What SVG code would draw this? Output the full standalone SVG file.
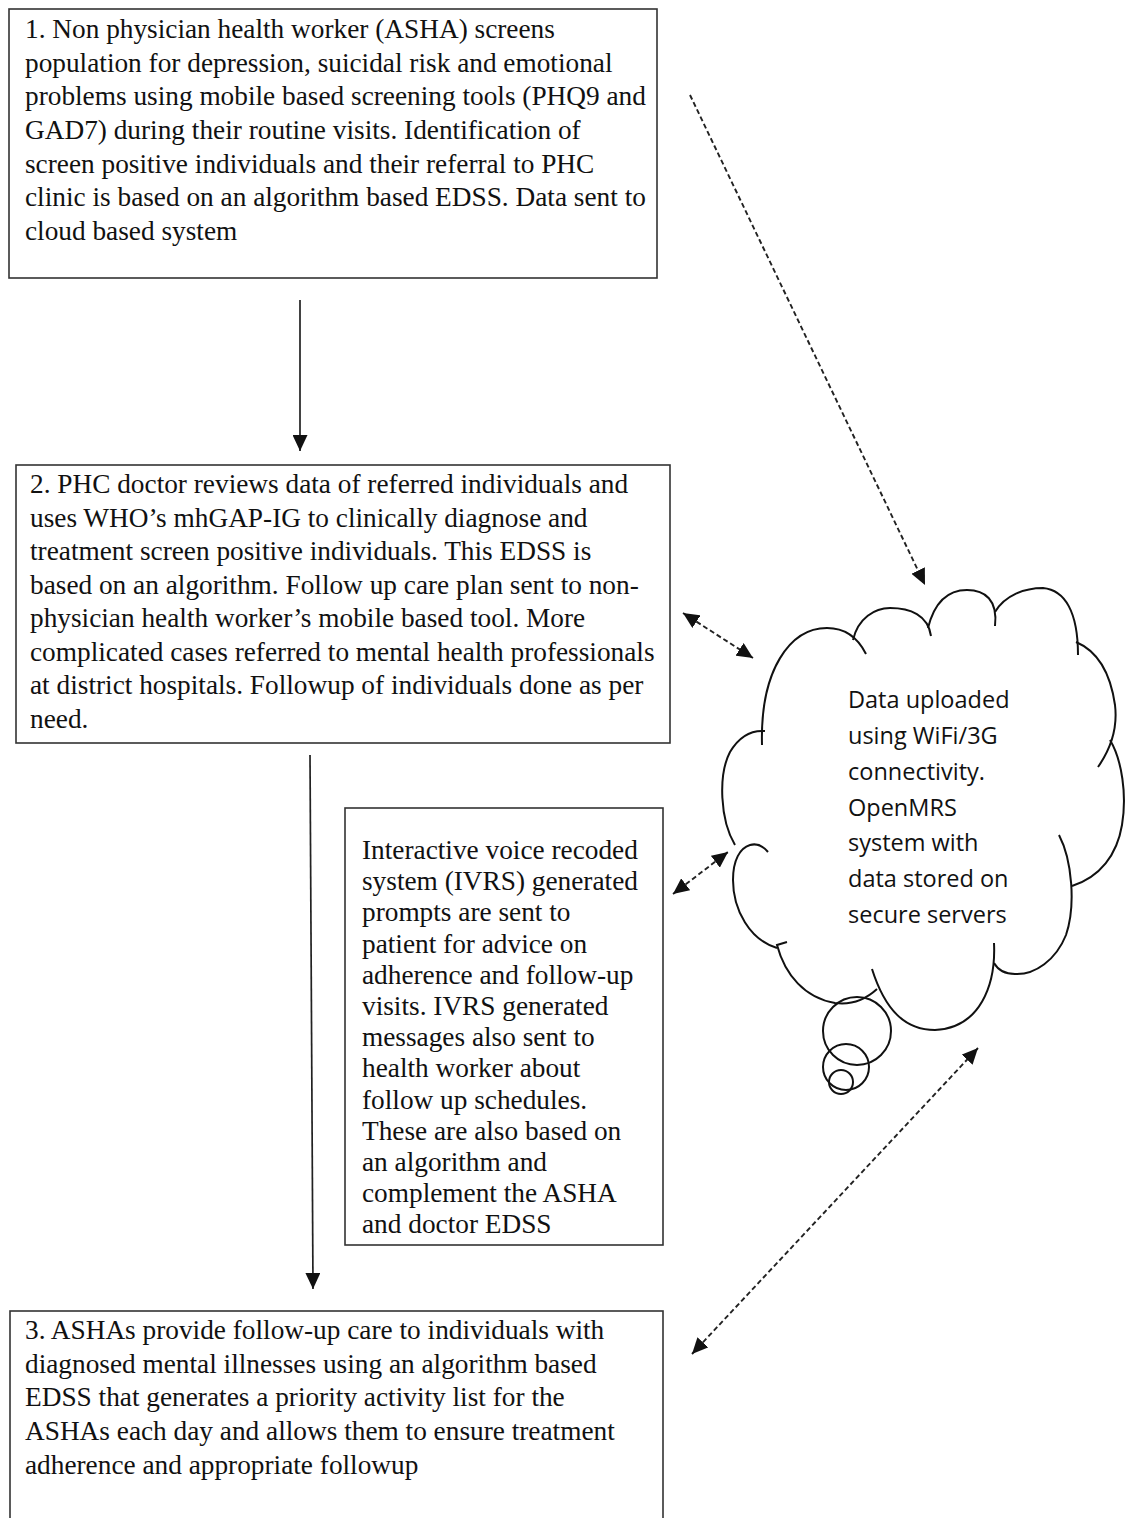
<svg xmlns="http://www.w3.org/2000/svg" width="1131" height="1518" viewBox="0 0 1131 1518">
<style>
.box{fill:#fff;stroke:#333;stroke-width:1.6}
.t{font-family:"Liberation Serif","Times New Roman",serif;font-size:27.3px;fill:#111}
.c{font-family:"Open Sans","Noto Sans",sans-serif;font-size:23.5px;fill:#111}
.solid{stroke:#222;stroke-width:1.7;fill:none}
.dash{stroke:#222;stroke-width:1.9;fill:none;stroke-dasharray:5 3}
.cl{stroke:#111;stroke-width:2;fill:none}
</style>
<defs>
<marker id="arrS" markerUnits="userSpaceOnUse" markerWidth="16" markerHeight="15" refX="16" refY="7.5" orient="auto"><path d="M0,0 L16,7.5 L0,15 z" fill="#111"/></marker>
<marker id="arrD" markerUnits="userSpaceOnUse" markerWidth="16" markerHeight="15" refX="16" refY="7.5" orient="auto-start-reverse"><path d="M0,0 L16,7.5 L0,15 z" fill="#111"/></marker>
</defs>
<rect width="1131" height="1518" fill="#fff"/>

<g id="connectors">
<line class="solid" x1="300" y1="300" x2="300" y2="451" marker-end="url(#arrS)"/>
<line class="solid" x1="310" y1="755" x2="313" y2="1289" marker-end="url(#arrS)"/>
<line class="dash" x1="690" y1="95" x2="925" y2="585" marker-end="url(#arrD)"/>
<line class="dash" x1="683" y1="613" x2="753" y2="658" marker-start="url(#arrD)" marker-end="url(#arrD)"/>
<line class="dash" x1="673" y1="894" x2="728" y2="852" marker-start="url(#arrD)" marker-end="url(#arrD)"/>
<line class="dash" x1="692" y1="1354" x2="978" y2="1048" marker-start="url(#arrD)" marker-end="url(#arrD)"/>
</g>

<g id="node1">
<rect class="box" x="9" y="9" width="648" height="269"/>
<text class="t">
<tspan x="25" y="38">1. Non physician health worker (ASHA) screens</tspan>
<tspan x="25" y="72">population for depression, suicidal risk and emotional</tspan>
<tspan x="25" y="105">problems using mobile based screening tools (PHQ9 and</tspan>
<tspan x="25" y="139">GAD7) during their routine visits. Identification of</tspan>
<tspan x="25" y="173">screen positive individuals and their referral to PHC</tspan>
<tspan x="25" y="206">clinic is based on an algorithm based EDSS. Data sent to</tspan>
<tspan x="25" y="240">cloud based system</tspan>
</text>
</g>

<g id="node2">
<rect class="box" x="16" y="465" width="654" height="278"/>
<text class="t">
<tspan x="30" y="493">2. PHC doctor reviews data of referred individuals and</tspan>
<tspan x="30" y="527">uses WHO’s mhGAP-IG to clinically diagnose and</tspan>
<tspan x="30" y="560">treatment screen positive individuals. This EDSS is</tspan>
<tspan x="30" y="594">based on an algorithm. Follow up care plan sent to non-</tspan>
<tspan x="30" y="627">physician health worker’s mobile based tool. More</tspan>
<tspan x="30" y="661">complicated cases referred to mental health professionals</tspan>
<tspan x="30" y="694">at district hospitals. Followup of individuals done as per</tspan>
<tspan x="30" y="728">need.</tspan>
</text>
</g>

<g id="node-ivrs">
<rect class="box" x="345" y="808" width="318" height="437"/>
<text class="t">
<tspan x="362" y="859">Interactive voice recoded</tspan>
<tspan x="362" y="890">system (IVRS) generated</tspan>
<tspan x="362" y="921">prompts are sent to</tspan>
<tspan x="362" y="953">patient for advice on</tspan>
<tspan x="362" y="984">adherence and follow-up</tspan>
<tspan x="362" y="1015">visits. IVRS generated</tspan>
<tspan x="362" y="1046">messages also sent to</tspan>
<tspan x="362" y="1077">health worker about</tspan>
<tspan x="362" y="1109">follow up schedules.</tspan>
<tspan x="362" y="1140">These are also based on</tspan>
<tspan x="362" y="1171">an algorithm and</tspan>
<tspan x="362" y="1202">complement the ASHA</tspan>
<tspan x="362" y="1233">and doctor EDSS</tspan>
</text>
</g>

<g id="node3">
<rect class="box" x="10" y="1311" width="653" height="240"/>
<text class="t">
<tspan x="25" y="1339">3. ASHAs provide follow-up care to individuals with</tspan>
<tspan x="25" y="1373">diagnosed mental illnesses using an algorithm based</tspan>
<tspan x="25" y="1406">EDSS that generates a priority activity list for the</tspan>
<tspan x="25" y="1440">ASHAs each day and allows them to ensure treatment</tspan>
<tspan x="25" y="1474">adherence and appropriate followup</tspan>
</text>
</g>

<g id="cloud">
<path class="cl" d="M762,745 C760,670 790,628 827,628 C845,628 858,638 866,654"/>
<path class="cl" d="M853,640 C858,618 875,608 890,608 C910,608 928,615 931,636"/>
<path class="cl" d="M928,628 C935,600 950,590 967,590 C985,590 998,600 995,626"/>
<path class="cl" d="M995,612 C1005,595 1025,588 1043,588 C1065,590 1078,612 1078,655"/>
<path class="cl" d="M1076,642 C1095,650 1110,670 1115,705 C1118,730 1110,750 1098,767"/>
<path class="cl" d="M1110,740 C1122,760 1127,795 1122,825 C1117,855 1100,877 1072,886"/>
<path class="cl" d="M1059,835 C1072,860 1076,905 1066,935 C1056,960 1035,975 1015,974 C1005,974 998,970 994,963"/>
<path class="cl" d="M994,943 C996,985 980,1028 935,1030 C905,1030 885,1010 872,969"/>
<path class="cl" d="M877,989 C865,1000 850,1005 835,1003 C805,998 785,975 777,945 L787,942"/>
<path class="cl" d="M777,948 C750,940 733,910 733,880 C733,860 740,848 750,845 C757,843 763,846 768,852"/>
<path class="cl" d="M735,845 C720,820 718,775 730,752 C740,735 752,730 765,731"/>
<circle class="cl" cx="857" cy="1031" r="34"/>
<circle class="cl" cx="846" cy="1067" r="23"/>
<circle class="cl" cx="841" cy="1082" r="12"/>
<text class="c">
<tspan x="848" y="708">Data uploaded</tspan>
<tspan x="848" y="744">using WiFi/3G</tspan>
<tspan x="848" y="780">connectivity.</tspan>
<tspan x="848" y="816">OpenMRS</tspan>
<tspan x="848" y="851">system with</tspan>
<tspan x="848" y="887">data stored on</tspan>
<tspan x="848" y="923">secure servers</tspan>
</text>
</g>
</svg>
